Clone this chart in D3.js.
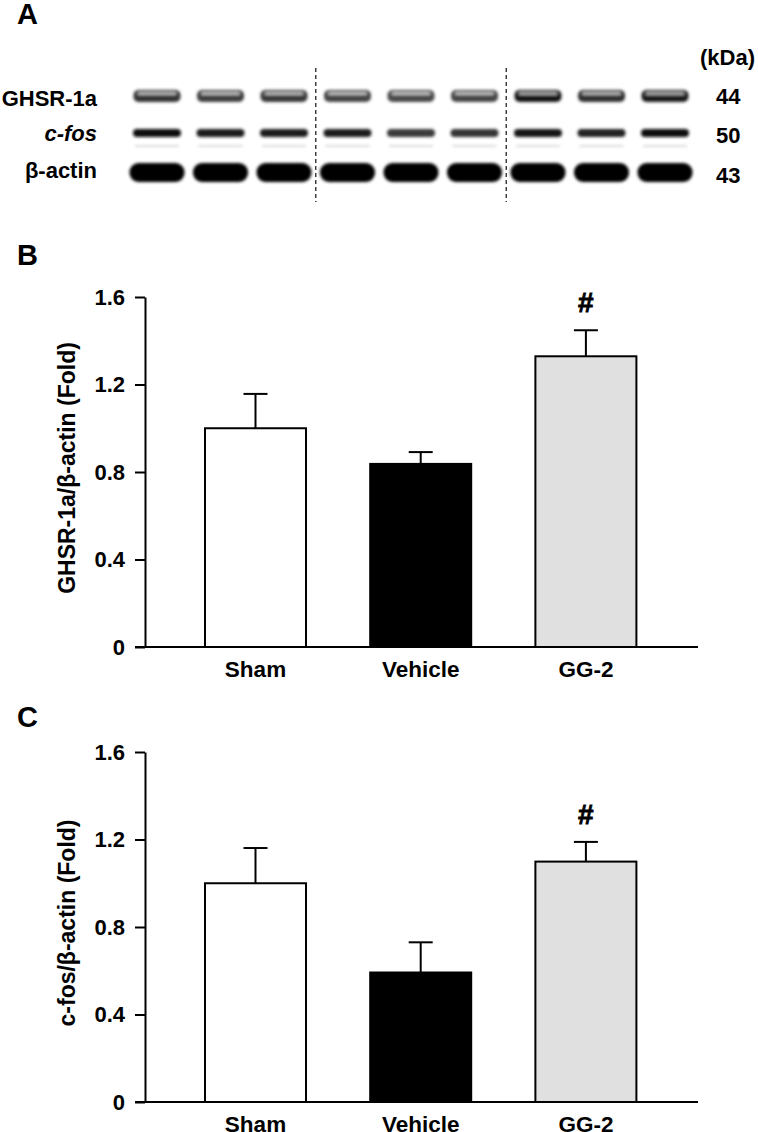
<!DOCTYPE html>
<html><head><meta charset="utf-8">
<script src="https://cdn.jsdelivr.net/npm/d3@7"></script>
<style>
body{margin:0;background:#fff}
svg{display:block}
text{font-family:"Liberation Sans",Arial,Helvetica,sans-serif;font-weight:bold;fill:#000}
</style>
</head><body><svg id="fig" width="758" height="1132"></svg>
<script>
// ---------- data ----------
const categories = ["Sham", "Vehicle", "GG-2"];
const ghsrMean = [1.00, 0.837, 1.329];
const ghsrSem  = [0.157, 0.054, 0.119];
const cfosMean = [1.00, 0.592, 1.099];
const cfosSem  = [0.161, 0.138, 0.090];
const yTicks = [0, 0.4, 0.8, 1.2, 1.6];
const sigMarks = ["", "", "#"];
const barFills = ["#ffffff", "#000000", "#e0e0e0"];
const blotRows = ["GHSR-1a", "c-fos", "β-actin"];
const blotKDa = ["44", "50", "43"];
const laneGroups = ["Sham","Sham","Sham","Vehicle","Vehicle","Vehicle","GG-2","GG-2","GG-2"];
const ghsrBand  = [0.80, 0.76, 0.78, 0.74, 0.72, 0.74, 0.92, 0.82, 0.90];
const cfosBand  = [0.95, 0.88, 0.88, 0.88, 0.78, 0.80, 0.93, 0.86, 0.95];
const actinBand = [1, 1, 1, 1, 1, 1, 1, 1, 1];

const svg = d3.select("#fig");
const defs = svg.append("defs");
defs.append("filter").attr("id","blur").attr("x","-20%").attr("y","-60%").attr("width","140%").attr("height","220%")
  .append("feGaussianBlur").attr("stdDeviation", 1.4);

// ---------- Panel A : western blot ----------
svg.append("text").attr("x", 17).attr("y", 24).attr("font-size", 29).text("A");

const lane = d3.scalePoint().domain(d3.range(laneGroups.length)).range([157, 665]);
const grey = v => d3.interpolateGreys(0.15 + 0.85 * v);

const rowCfg = [
  {vals: ghsrBand,  y: 90,  h: 12, w: 47, rx: 5, label: blotRows[0], italic: false, base: 106, kBase: 104},
  {vals: cfosBand,  y: 129, h: 8,  w: 48, rx: 4, label: blotRows[1], italic: true,  base: 141, kBase: 143},
  {vals: actinBand, y: 163, h: 19, w: 55, rx: 9, label: blotRows[2], italic: false, base: 178, kBase: 183}
];

const blot = svg.append("g");
rowCfg.forEach((r, ri) => {
  const g = blot.append("g").attr("filter", "url(#blur)");
  g.selectAll("rect.band").data(r.vals).join("rect")
    .attr("class","band")
    .attr("x", (d,i) => lane(i) - r.w/2)
    .attr("y", r.y).attr("width", r.w).attr("height", r.h)
    .attr("rx", r.rx).attr("fill", d => grey(d));
  if (ri === 0) {
    // lighter smear in upper part of GHSR-1a band
    g.selectAll("rect.hl").data(r.vals).join("rect")
      .attr("class","hl")
      .attr("x", (d,i) => lane(i) - r.w/2 + 4)
      .attr("y", r.y + 2).attr("width", r.w - 8).attr("height", 3)
      .attr("rx", 1.5).attr("fill", d => d3.interpolateGreys(0.5 * d));
  }
  if (ri === 1) {
    // faint lower band under c-fos
    g.selectAll("rect.faint").data(r.vals).join("rect")
      .attr("class","faint")
      .attr("x", (d,i) => lane(i) - r.w/2 + 2)
      .attr("y", 145).attr("width", r.w - 4).attr("height", 2)
      .attr("fill", "#dcdcdc");
  }
  blot.append("text").attr("x", 97).attr("y", r.base).attr("text-anchor","end")
    .attr("font-size", 22).attr("font-style", r.italic ? "italic" : "normal").text(r.label);
  blot.append("text").attr("x", 716).attr("y", r.kBase).attr("font-size", 22).text(blotKDa[ri]);
});
blot.append("text").attr("x", 700).attr("y", 65).attr("font-size", 22).text("(kDa)");

// dashed separators between treatment groups
const seps = d3.range(1, laneGroups.length).filter(i => laneGroups[i] !== laneGroups[i-1]);
blot.selectAll("line.sep").data(seps).join("line")
  .attr("x1", i => (lane(i) + lane(i-1)) / 2).attr("x2", i => (lane(i) + lane(i-1)) / 2)
  .attr("y1", 68).attr("y2", 202)
  .attr("stroke", "#333").attr("stroke-width", 1.4).attr("stroke-dasharray", "4,3");

// ---------- Bar panels ----------
const x = d3.scaleBand().domain(categories).range([205, 636.4]).paddingInner(0.3886).paddingOuter(0);
const FONT = '"Liberation Sans",Arial,sans-serif';

function barPanel(cfg) {
  const y = d3.scaleLinear().domain([0, 1.6]).range([cfg.y0, cfg.y1]);
  const g = svg.append("g");
  svg.append("text").attr("x", 17).attr("y", cfg.labelY).attr("font-size", 29).text(cfg.label);

  // bars
  g.selectAll("rect.bar").data(cfg.means).join("rect")
    .attr("x", (d,i) => x(categories[i]))
    .attr("y", d => y(d))
    .attr("width", x.bandwidth())
    .attr("height", d => y(0) - y(d))
    .attr("fill", (d,i) => barFills[i])
    .attr("stroke", "#000").attr("stroke-width", 2);

  // error bars
  const eb = g.selectAll("g.eb").data(cfg.means).join("g");
  eb.append("line")
    .attr("x1", (d,i) => x(categories[i]) + x.bandwidth()/2)
    .attr("x2", (d,i) => x(categories[i]) + x.bandwidth()/2)
    .attr("y1", d => y(d)).attr("y2", (d,i) => y(d + cfg.sems[i]))
    .attr("stroke", "#000").attr("stroke-width", 2);
  eb.append("line")
    .attr("x1", (d,i) => x(categories[i]) + x.bandwidth()/2 - 12)
    .attr("x2", (d,i) => x(categories[i]) + x.bandwidth()/2 + 12)
    .attr("y1", (d,i) => y(d + cfg.sems[i])).attr("y2", (d,i) => y(d + cfg.sems[i]))
    .attr("stroke", "#000").attr("stroke-width", 2);

  // significance marks
  g.selectAll("text.sig").data(cfg.means).join("text")
    .attr("x", (d,i) => x(categories[i]) + x.bandwidth()/2)
    .attr("y", (d,i) => y(d + cfg.sems[i]) - 18)
    .attr("text-anchor", "middle").attr("font-size", 28)
    .attr("stroke", "#000").attr("stroke-width", 0.8)
    .text((d,i) => sigMarks[i]);

  // y axis
  const ya = g.append("g").attr("transform", "translate(145,0)")
    .call(d3.axisLeft(y).tickValues(yTicks).tickSize(10).tickSizeOuter(0).tickPadding(10)
      .tickFormat(d => d === 0 ? "0" : d3.format(".1f")(d)));
  ya.selectAll("path,line").attr("stroke", "#000").attr("stroke-width", 2);
  ya.selectAll("text").attr("font-size", 22).attr("font-family", FONT).attr("font-weight","bold").attr("fill","#000");

  // x axis line
  g.append("line").attr("x1", 135).attr("x2", 698).attr("y1", y(0)).attr("y2", y(0))
    .attr("stroke", "#000").attr("stroke-width", 2);
  const xa = g.append("g").attr("transform", `translate(0,${y(0)})`)
    .call(d3.axisBottom(x).tickSize(0).tickPadding(14));
  xa.select(".domain").remove();
  xa.selectAll("text").attr("font-size", 22.5).attr("font-family", FONT).attr("font-weight","bold").attr("fill","#000");

  // y title
  svg.append("text")
    .attr("transform", `translate(75,${(cfg.y0 + cfg.y1)/2 - 4}) rotate(-90)`)
    .attr("text-anchor", "middle").attr("font-size", 23).text(cfg.title);
}

barPanel({y0: 647, y1: 297, means: ghsrMean, sems: ghsrSem, label: "B", labelY: 265,
  title: "GHSR-1a/β-actin (Fold)"});
barPanel({y0: 1102, y1: 752, means: cfosMean, sems: cfosSem, label: "C", labelY: 727,
  title: "c-fos/β-actin (Fold)"});
</script>
</body></html>
